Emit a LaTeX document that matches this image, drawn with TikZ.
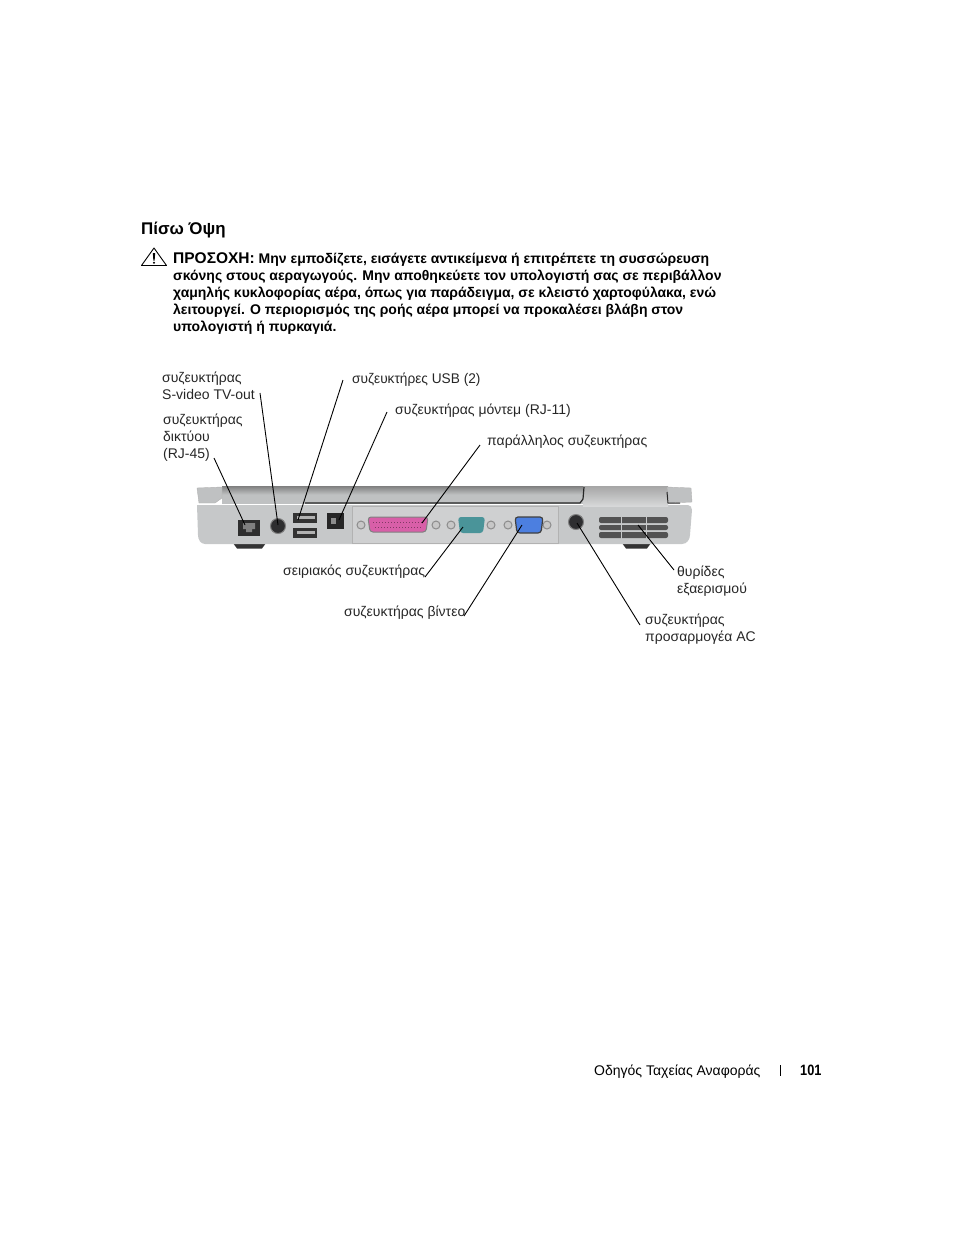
\documentclass[tikz,border=0pt]{standalone}
\usepackage{fontspec}
\setmainfont{Liberation Sans}
\usetikzlibrary{calc}
\definecolor{bodyg}{HTML}{C6C8C9}
\definecolor{lidg}{HTML}{BFC1C2}
\definecolor{panelg}{HTML}{CFD0D1}
\definecolor{darkp}{HTML}{2E2E30}
\definecolor{pinkp}{HTML}{D85FA8}
\definecolor{tealp}{HTML}{4A9499}
\definecolor{bluep}{HTML}{4C7FE0}
\tikzset{x=1pt,y=-1pt,
 lab/.style={inner sep=0pt,anchor=base west,align=left,font=\fontsize{14}{17}\selectfont,text=black!85},
 warn/.style={inner sep=0pt,anchor=base west,font=\fontsize{14}{17}\selectfont\bfseries},
 lead/.style={draw=black,line width=0.9pt},
 screw/.style={circle,draw=black!45,fill=black!22,minimum size=8pt,inner sep=0pt,line width=1pt},
 ventrow/.style={fill=black!68,rounded corners=2pt}}
\begin{document}
\begin{tikzpicture}
\useasboundingbox (0,0) rectangle (954,1235);
% heading
\node[inner sep=0pt,anchor=base west,font=\fontsize{16.9}{18}\selectfont\bfseries] (head) at (141,234) {Πίσω Όψη};
% warning triangle
\draw[line width=0.9pt,line join=round,fill=white] (154,248) -- (166.5,265.5) -- (141.5,265.5) -- cycle;
\fill (152.8,253) -- (155.2,253) -- (154.6,260.5) -- (153.4,260.5) -- cycle;
\fill (154,262.8) circle (1.1);
\node[warn] (w1) at (173,263) {{\fontsize{15.5}{17}\selectfont ΠΡΟΣΟΧΗ:} Μην εμποδίζετε, εισάγετε αντικείμενα ή επιτρέπετε τη συσσώρευση};
\node[warn] (w2) at (173,280) {σκόνης στους αεραγωγούς. Μην αποθηκεύετε τον υπολογιστή σας σε περιβάλλον};
\node[warn] (w3) at (173,297) {χαμηλής κυκλοφορίας αέρα, όπως για παράδειγμα, σε κλειστό χαρτοφύλακα, ενώ};
\node[warn] (w4) at (173,314) {λειτουργεί. Ο περιορισμός της ροής αέρα μπορεί να προκαλέσει βλάβη στον};
\node[warn] (w5) at (173,331) {υπολογιστή ή πυρκαγιά.};
% laptop
\fill[black!80] (233,543) -- (266,543) -- (262,548.5) -- (237,548.5) -- cycle;
\fill[black!80] (622,543) -- (651,543) -- (647,548.5) -- (626,548.5) -- cycle;
\path[fill=bodyg] (197,505) -- (688,505) to[out=0,in=90] (692,510) -- (690,535) to[out=-90,in=0] (682,544) -- (205,544) to[out=180,in=-90] (198,535) -- cycle;
\path[top color=black!50,bottom color=lidg,middle color=lidg] (222,486) rectangle (583,503);
\path[fill=lidg!85!white,top color=black!35,bottom color=bodyg!70!white] (583,486) rectangle (668,506);
\draw[draw=black!85,line width=1.2pt] (305,503) -- (580,503) -- (583,499) -- (584,487);
\path[fill=lidg,draw=black!30,line width=0.4pt] (197,488) -- (222,487) -- (222,498) -- (215,503) -- (199,503) -- cycle;
\path[fill=lidg,draw=black!30,line width=0.4pt] (667,487) -- (691,488) -- (692,502) -- (669,503) -- cycle;
\draw[black!85,line width=1pt] (667,492) -- (668,503) -- (680,503);
\path[fill=panelg,draw=black!30,line width=0.4pt] (352,506) -- (558,506) -- (558,543) -- (352,543) -- cycle;
% ports
\path[fill=black!82] (238,520) -- (260,520) -- (260,536) -- (238,536) -- cycle;
\fill[black!50] (243,523) -- (255,523) -- (255,529) -- (252,529) -- (252,532) -- (246,532) -- (246,529) -- (243,529) -- cycle;
\node[circle,fill=darkp,draw=black!50,line width=1pt,minimum size=15pt,inner sep=0pt] (svideo) at (278,526) {};
\path[fill=black!80] (293,513) rectangle (317,523);
\path[fill=black!80] (293,528) rectangle (317,538);
\fill[black!30] (297,516) rectangle (315,519);
\fill[black!30] (297,531) rectangle (315,534);
\path[fill=black!85] (327,513) rectangle (344,529);
\fill[black!45] (331,518) rectangle (336,524);
\node[screw] (s1) at (361,525) {};
\node[screw] (s2) at (436,525) {};
\node[screw] (s3) at (451,525) {};
\node[screw] (s4) at (491,525) {};
\node[screw] (s5) at (508,525) {};
\node[screw] (s6) at (547,525) {};
\path[draw=black!50,fill=pinkp,line width=1pt,rounded corners=3pt] (368,517) -- (428,517) -- (426,532) -- (370,532) -- cycle;
\draw[pinkp!60!black,line width=1pt,dash pattern=on 1pt off 2pt] (373,522) -- (423,522) (375,527) -- (421,527);
\path[fill=tealp,rounded corners=3pt] (458,517) -- (485,517) -- (483,533) -- (460,533) -- cycle;
\path[draw=black!75,fill=bluep,line width=1.2pt,rounded corners=3pt] (515,517) -- (543,517) -- (541,533) -- (517,533) -- cycle;
\node[circle,fill=darkp,draw=black!50,line width=1pt,minimum size=15pt,inner sep=0pt] (acjack) at (576,522) {};
\path[ventrow] (599,517) rectangle (668,523);
\path[ventrow] (599,525) rectangle (668,530);
\path[ventrow] (599,532) rectangle (668,538);
\draw[bodyg,line width=1pt] (621,516) -- (621,539) (646,516) -- (646,539);
% labels
\node[lab] (lsv) at (162,399) {συζευκτήρας\\S-video TV-out};
\node[lab] (lrj) at (163,458) {συζευκτήρας\\δικτύου\\(RJ-45)};
\node[lab] (lusb) at (352,383) {\scalebox{0.977}[1]{συζευκτήρες USB (2)}};
\node[lab] (lmod) at (395,414) {συζευκτήρας μόντεμ (RJ-11)};
\node[lab] (lpar) at (487,445) {παράλληλος συζευκτήρας};
\node[lab] (lser) at (283,575) {σειριακός συζευκτήρας};
\node[lab] (lvid) at (344,616) {συζευκτήρας βίντεο};
\node[lab] (lvent) at (677,593) {θυρίδες\\εξαερισμού};
\node[lab] (lac) at (645,641) {συζευκτήρας\\προσαρμογέα AC};
% connector ends
\coordinate (a1) at (214,458); \coordinate (b1) at (245,525);
\coordinate (a2) at (260,393); \coordinate (b2) at (278,525);
\coordinate (a3) at (343,380); \coordinate (b3) at (298,520);
\coordinate (a4) at (387,412); \coordinate (b4) at (339,520);
\coordinate (a5) at (480,445); \coordinate (b5) at (422,523);
\coordinate (a6) at (425,577); \coordinate (b6) at (463,527);
\coordinate (a7) at (464,616); \coordinate (b7) at (522,525);
\coordinate (a8) at (640,625); \coordinate (b8) at (577,523);
\coordinate (a9) at (674,570); \coordinate (b9) at (638,525);
\foreach \i in {1,...,9} {\draw[lead] (a\i) -- (b\i);}
% footer
\node[inner sep=0pt,anchor=base west,font=\fontsize{14}{16}\selectfont] (foot) at (594,1075) {Οδηγός Ταχείας Αναφοράς};
\coordinate (t1) at (780,1065); \coordinate (t2) at (780,1076);
\draw[line width=0.7pt] (t1) -- (t2);
\node[inner sep=0pt,anchor=base west,font=\fontsize{15}{16}\selectfont\bfseries] (pg) at (800,1075) {\scalebox{0.85}[1]{101}};
\end{tikzpicture}
\end{document}
